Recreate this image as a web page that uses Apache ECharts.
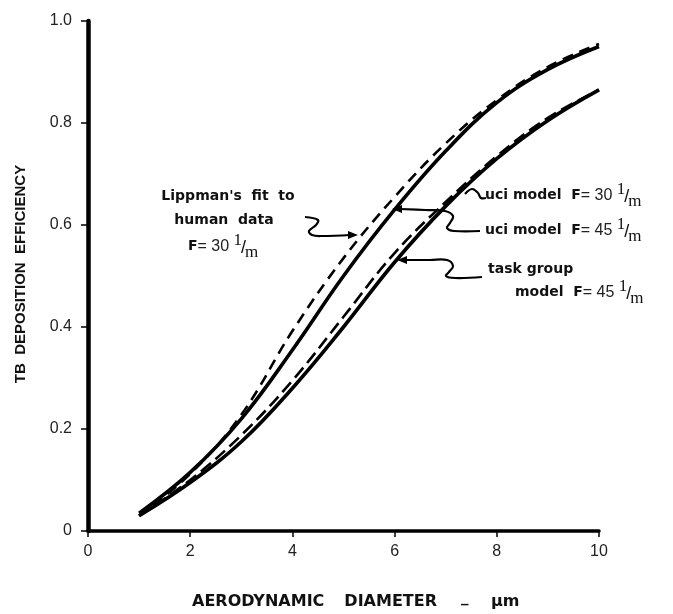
<!DOCTYPE html>
<html><head><meta charset="utf-8">
<script src="https://cdn.jsdelivr.net/npm/echarts@6/dist/echarts.min.js"></script>
<style>html,body{margin:0;padding:0;background:#fff}#c{width:673px;height:614px}</style>
</head><body><div id="c"></div>
<script>
// Data
const diameters = [1, 2, 3, 4, 5, 6, 7, 8, 9, 10];
const lippman30  = [0.030, 0.112, 0.228, 0.392, 0.535, 0.655, 0.760, 0.845, 0.910, 0.955];
const uci45      = [0.035, 0.115, 0.220, 0.355, 0.500, 0.630, 0.745, 0.840, 0.905, 0.950];
const taskGroup45= [0.030, 0.100, 0.188, 0.295, 0.420, 0.545, 0.645, 0.735, 0.810, 0.865];
const uci30      = [0.030, 0.095, 0.175, 0.280, 0.400, 0.527, 0.637, 0.730, 0.805, 0.865];
const xTickLabels = ['0', '2', '4', '6', '8', '10'];
const yTickLabels = ['0', '0.2', '0.4', '0.6', '0.8', '1.0'];

const pairs = arr => diameters.map((d, i) => [d, arr[i]]);

const BOLD = 'bold 14px "DejaVu Sans"';
const LIGHT = '16px "Liberation Sans"';
const SERIF = '17px "Liberation Serif"';
const ctx = document.createElement('canvas').getContext('2d');
function tw(t, f) { ctx.font = f; return ctx.measureText(t).width; }
function txt(x, y, t, f, opts) {
  opts = opts || {};
  return {
    type: 'text', x: x, y: y, rotation: opts.rotation || 0, silent: true,
    style: { text: t, font: f, fill: opts.fill || '#111',
      textAlign: opts.align || 'left', align: opts.align || 'left',
      textVerticalAlign: 'middle', verticalAlign: 'middle' }
  };
}
function seq(x, y, parts) {
  let cx = x; const out = [];
  parts.forEach(p => {
    out.push(txt(cx, y + (p.dy || 0), p.t, p.f, { fill: p.fill }));
    cx += tw(p.t, p.f) + (p.k || 0);
  });
  return out;
}
function fracParts(lead, num) {
  return [
    { t: lead, f: BOLD },
    { t: '= ' + num + ' ', f: LIGHT, fill: '#222', dy: 1 },
    { t: '1', f: SERIF, dy: -5, k: -1 },
    { t: '/', f: '18px "Liberation Sans"', dy: 2, k: -1 },
    { t: 'm', f: SERIF, dy: 7 }
  ];
}
function line(points, smooth) {
  return { type: 'polyline', silent: true, shape: { points: points, smooth: smooth || 0 },
    style: { stroke: '#000', lineWidth: 2.2, fill: 'none' } };
}
function arrow(tip, dir) {
  const [x, y] = tip, s = dir;
  return { type: 'polygon', silent: true,
    shape: { points: [[x, y], [x - 10 * s, y - 4], [x - 10 * s, y + 4]] },
    style: { fill: '#000' } };
}

const chart = echarts.init(document.getElementById('c'), null, { renderer: 'canvas' });
const axisFont = { fontFamily: 'Liberation Sans', fontSize: 16, color: '#222' };

const graphics = [].concat(
  [txt(21, 274, 'TB  DEPOSITION  EFFICIENCY', 'bold 15px "Liberation Sans"', { rotation: Math.PI / 2, align: 'center' })],
  [txt(192, 602, 'AERODYNAMIC', 'bold 16px "DejaVu Sans"')],
  [txt(437, 602, 'DIAMETER', 'bold 16px "DejaVu Sans"', { align: 'right' })],
  [txt(461, 598, '_', 'bold 15px "DejaVu Sans"')],
  [txt(491, 602, 'μm', 'bold 16px "DejaVu Sans"')],
  [txt(228, 196, "Lippman's  fit  to", BOLD, { align: 'center' })],
  [txt(224, 220, 'human  data', BOLD, { align: 'center' })],
  seq(188, 246, fracParts('F', '30')),
  seq(485, 195, [{ t: 'uci model  ', f: BOLD }].concat(fracParts('F', '30'))),
  seq(485, 230, [{ t: 'uci model  ', f: BOLD }].concat(fracParts('F', '45'))),
  [txt(488, 269, 'task group', BOLD)],
  seq(515, 292, fracParts('model  F', '45')),
  [line([[305, 217], [318, 220], [316, 225], [309, 231], [312, 235], [322, 236], [350, 235]], 0.4)],
  [arrow([358, 235], 1)],
  [line([[465, 194], [472, 189], [478, 193], [481, 198], [486, 198]], 0.4)],
  [line([[400, 209], [425, 210], [445, 211], [453, 216], [450, 223], [447, 228], [454, 231], [480, 231]], 0.4)],
  [arrow([392, 209], -1)],
  [line([[404, 260], [430, 260], [447, 260], [453, 266], [449, 272], [446, 276], [455, 278], [482, 277]], 0.4)],
  [arrow([397, 260], -1)]
);

const lineSeries = (name, arr, width, type) => ({
  name: name, type: 'line', data: pairs(arr), smooth: 0.4, symbol: 'none',
  lineStyle: { color: '#000', width: width, type: type, cap: 'butt' }
});

chart.setOption({
  animation: false,
  backgroundColor: '#fff',
  grid: { left: 88, right: 74, top: 21, bottom: 83 },
  xAxis: {
    type: 'value', min: 0, max: 10, interval: 2,
    axisLine: { lineStyle: { color: '#000', width: 3.5 } },
    axisTick: { show: true, length: 6, lineStyle: { color: '#000', width: 1.5 } },
    splitLine: { show: false },
    axisLabel: Object.assign({ margin: 13, formatter: v => xTickLabels[Math.round(v / 2)] }, axisFont)
  },
  yAxis: {
    type: 'value', min: 0, max: 1, interval: 0.2,
    axisLine: { show: true, lineStyle: { color: '#000', width: 4.5 } },
    axisTick: { show: true, length: 7, lineStyle: { color: '#000', width: 1.5 } },
    splitLine: { show: false },
    axisLabel: Object.assign({ margin: 16, formatter: v => yTickLabels[Math.round(v / 0.2)] }, axisFont)
  },
  series: [
    lineSeries("Lippman's fit", lippman30, 2.6, [11, 7]),
    lineSeries('task group F=45', taskGroup45, 2.6, [13, 6]),
    lineSeries('uci F=45', uci45, 3.6, 'solid'),
    lineSeries('uci F=30', uci30, 3.6, 'solid')
  ],
  graphic: graphics
});
</script>
</body></html>
